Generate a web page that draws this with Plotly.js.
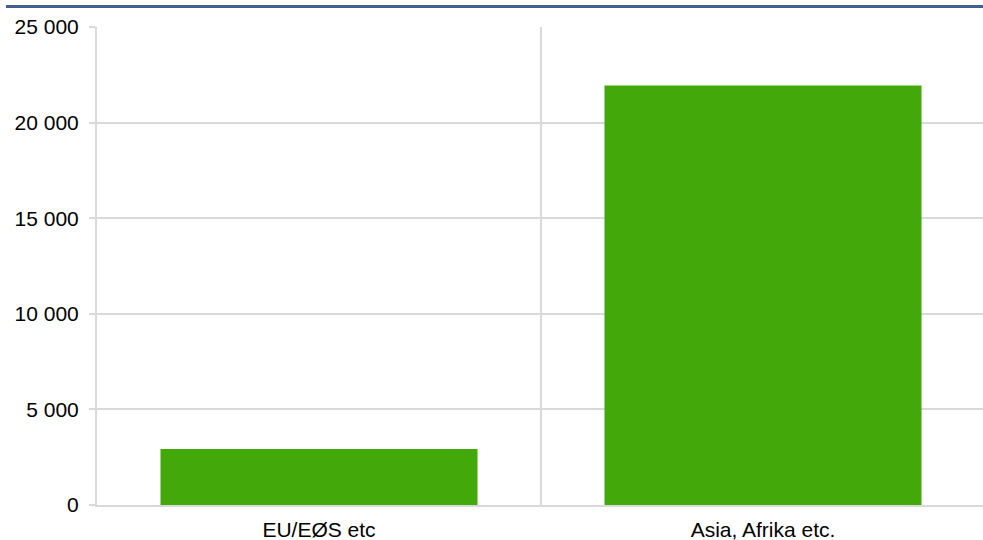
<!DOCTYPE html>
<html>
<head>
<meta charset="utf-8">
<script src="https://cdn.plot.ly/plotly-3.0.1.min.js"></script>
<style>
html,body{margin:0;padding:0;overflow:hidden;background:#fff;width:983px;height:540px;}
#topline{position:absolute;left:6px;top:5px;width:990px;height:3px;background:#41608f;z-index:5;}
#chart{position:absolute;left:0;top:0;}
</style>
</head>
<body>
<div id="chart"></div>
<div id="topline"></div>
<script>
const categories = ["EU/EØS etc", "Asia, Afrika etc."];
const values = [2930, 21940];
const yTickVals = [0, 5000, 10000, 15000, 20000, 25000];
const yTickText = ["0", "5 000", "10 000", "15 000", "20 000", "25 000"];

const trace = {
  type: 'bar',
  x: categories,
  y: values,
  width: 0.714,
  marker: {color: '#43a80a', line: {width: 0}},
  hoverinfo: 'x+y'
};

const font = {family: '"Liberation Sans", Arial, sans-serif', size: 21, color: '#000'};

const layout = {
  width: 990,
  height: 540,
  margin: {l: 97, r: 5, t: 27, b: 35, pad: 0},
  paper_bgcolor: '#fff',
  plot_bgcolor: '#fff',
  showlegend: false,
  bargap: 0.286,
  font: font,
  xaxis: {
    type: 'category',
    range: [-0.5, 1.5],
    tickson: 'boundaries',
    showgrid: true,
    gridcolor: '#d9d9d9',
    gridwidth: 2,
    ticks: '',
    ticklabelstandoff: 5,
    showline: true,
    linecolor: '#d9d9d9',
    linewidth: 2,
    zeroline: false,
    automargin: false,
    tickfont: font,
    fixedrange: true
  },
  yaxis: {
    range: [0, 25000],
    tickvals: yTickVals,
    ticktext: yTickText,
    showgrid: true,
    gridcolor: '#d9d9d9',
    gridwidth: 2,
    zeroline: false,
    showline: true,
    linecolor: '#d9d9d9',
    linewidth: 2,
    ticks: 'outside',
    ticklen: 6,
    tickwidth: 2,
    tickcolor: '#d9d9d9',
    ticklabelstandoff: 6,
    automargin: false,
    tickfont: font,
    fixedrange: true
  }
};

Plotly.newPlot('chart', [trace], layout, {displayModeBar: false, staticPlot: true});
</script>
</body>
</html>
